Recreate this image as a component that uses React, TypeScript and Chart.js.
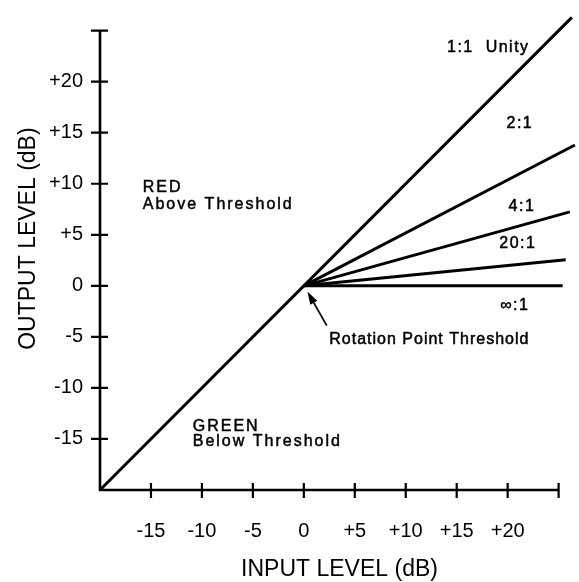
import React, { useEffect, useRef } from 'react';
import { Chart, registerables } from 'chart.js';

Chart.register(...registerables);

// ---- data ----
const tickValues = [-15, -10, -5, 0, 5, 10, 15, 20, 25];
const xTickLabels = ['-15', '-10', '-5', '0', '+5', '+10', '+15', '+20', ''];
const yTickLabels = ['-15', '-10', '-5', '0', '+5', '+10', '+15', '+20', ''];

const unityIn = [-20, 26.3];
const unityOut = [-20, 26.3];
const ratio2In = [0, 26.6];
const ratio2Out = [0, 13.8];
const ratio4In = [0, 26.1];
const ratio4Out = [0, 7.25];
const ratio20In = [0, 25.7];
const ratio20Out = [0, 2.55];
const ratioInfIn = [0, 25.4];
const ratioInfOut = [0, 0];

const seriesNames = ['1:1  Unity', '2:1', '4:1', '20:1', '\u221E:1'];
const seriesIn = [unityIn, ratio2In, ratio4In, ratio20In, ratioInfIn];
const seriesOut = [unityOut, ratio2Out, ratio4Out, ratio20Out, ratioInfOut];

// label anchors (data coordinates)
const labelIn = [18.1, 21.2, 21.4, 21.0, 20.7];
const labelOut = [23.3, 15.9, 7.75, 4.1, -1.9];

const noteTexts = ['RED', 'Above Threshold', 'GREEN', 'Below Threshold', 'Rotation Point Threshold'];
const noteIn = [-15.8, -15.8, -10.9, -10.9, 2.5];
const noteOut = [9.6, 8.0, -13.8, -15.3, -5.3];

const arrowFrom = [2.25, -3.9];
const arrowTo = [0.35, -0.55];

const FONT = '"Liberation Sans", Arial, Helvetica, sans-serif';

const drawPlugin = {
  id: 'axesAndNotes',
  afterDatasetsDraw(chart: any) {
    const { ctx, scales } = chart;
    const x = scales.x;
    const y = scales.y;
    ctx.save();
    ctx.strokeStyle = '#000';
    ctx.fillStyle = '#000';
    // axes
    const x0 = x.getPixelForValue(-20);
    const x1 = x.getPixelForValue(25);
    const y0 = y.getPixelForValue(-20);
    const y1 = y.getPixelForValue(25);
    ctx.lineWidth = 2.6;
    ctx.beginPath();
    ctx.moveTo(x0, y1);
    ctx.lineTo(x0, y0);
    ctx.lineTo(x1, y0);
    ctx.stroke();
    // ticks crossing the axes
    ctx.lineWidth = 2.2;
    ctx.beginPath();
    tickValues.forEach((v) => {
      const px = x.getPixelForValue(v);
      ctx.moveTo(px, y0 - 7);
      ctx.lineTo(px, y0 + 8);
      const py = y.getPixelForValue(v);
      ctx.moveTo(x0 - 9, py);
      ctx.lineTo(x0 + 8, py);
    });
    ctx.stroke();

    // arrow
    const ax0 = x.getPixelForValue(arrowFrom[0]);
    const ay0 = y.getPixelForValue(arrowFrom[1]);
    const ax1 = x.getPixelForValue(arrowTo[0]);
    const ay1 = y.getPixelForValue(arrowTo[1]);
    const ang = Math.atan2(ay1 - ay0, ax1 - ax0);
    const hl = 13;
    const hw = 4;
    const bx = ax1 - hl * Math.cos(ang);
    const by = ay1 - hl * Math.sin(ang);
    ctx.lineWidth = 1.7;
    ctx.beginPath();
    ctx.moveTo(ax0, ay0);
    ctx.lineTo(bx, by);
    ctx.stroke();
    ctx.beginPath();
    ctx.moveTo(ax1, ay1);
    ctx.lineTo(bx + hw * Math.sin(ang), by - hw * Math.cos(ang));
    ctx.lineTo(bx - hw * Math.sin(ang), by + hw * Math.cos(ang));
    ctx.closePath();
    ctx.fill();

    // texts
    ctx.font = `16px ${FONT}`;
    ctx.textBaseline = 'middle';
    ctx.lineWidth = 0.5;
    ctx.lineJoin = 'round';
    const put = (t: string, px: number, py: number) => {
      ctx.fillText(t, px, py);
      ctx.strokeText(t, px, py);
    };
    try { (ctx as any).letterSpacing = '1.5px'; } catch (e) {}
    ctx.textAlign = 'center';
    seriesNames.forEach((t, i) => {
      put(t, x.getPixelForValue(labelIn[i]), y.getPixelForValue(labelOut[i]));
    });
    ctx.textAlign = 'left';
    noteTexts.forEach((t, i) => {
      const last = i === noteTexts.length - 1;
      try { (ctx as any).letterSpacing = last ? '1px' : '2px'; } catch (e) {}
      put(t, x.getPixelForValue(noteIn[i]), y.getPixelForValue(noteOut[i]));
    });
    ctx.restore();
  },
};

export default function App() {
  const canvasRef = useRef<HTMLCanvasElement | null>(null);

  useEffect(() => {
    if (!canvasRef.current) return;
    const datasets = seriesNames.map((name, i) => ({
      label: name,
      data: seriesIn[i].map((v, j) => ({ x: v, y: seriesOut[i][j] })),
      showLine: true,
      borderColor: '#000',
      backgroundColor: '#000',
      borderWidth: 3,
      pointRadius: 0,
      clip: false as any,
    }));
    const zeroPad = (scale: any) => {
      scale.paddingLeft = 0;
      scale.paddingRight = 0;
      scale.paddingTop = 0;
      scale.paddingBottom = 0;
    };
    const chart = new Chart(canvasRef.current, {
      type: 'scatter',
      data: { datasets },
      plugins: [drawPlugin],
      options: {
        animation: false,
        responsive: true,
        maintainAspectRatio: false,
        layout: { padding: 0 },
        plugins: { legend: { display: false }, tooltip: { enabled: false } },
        scales: {
          x: {
            type: 'linear',
            min: -20,
            max: 27,
            grid: { display: false, drawTicks: false },
            border: { display: false },
            ticks: {
              stepSize: 5,
              includeBounds: false,
              autoSkip: false,
              maxRotation: 0,
              padding: 29,
              color: '#000',
              font: { family: FONT, size: 20 },
              callback: (v: any) => {
                const i = tickValues.indexOf(Number(v));
                return i >= 0 ? xTickLabels[i] : '';
              },
            },
            title: {
              display: true,
              text: 'INPUT LEVEL (dB)',
              color: '#000',
              font: { family: FONT, size: 23, lineHeight: 1.05 },
              padding: { top: 0, bottom: 0 },
            },
            afterFit: (scale: any) => {
              scale.height = 92;
              zeroPad(scale);
            },
          },
          y: {
            type: 'linear',
            min: -20,
            max: 28,
            grid: { display: false, drawTicks: false },
            border: { display: false },
            ticks: {
              stepSize: 5,
              includeBounds: false,
              autoSkip: false,
              padding: 17,
              color: '#000',
              font: { family: FONT, size: 20 },
              callback: (v: any) => {
                const i = tickValues.indexOf(Number(v));
                return i >= 0 ? yTickLabels[i] : '';
              },
            },
            title: {
              display: true,
              text: '  OUTPUT LEVEL (dB)',
              color: '#000',
              font: { family: FONT, size: 23, lineHeight: 1.2 },
              padding: { top: 15, bottom: 0 },
            },
            afterFit: (scale: any) => {
              scale.width = 100;
              zeroPad(scale);
            },
          },
        },
      },
    });
    return () => chart.destroy();
  }, []);

  return (
    <div style={{ position: 'fixed', left: 0, top: 0, width: 579, height: 582, background: '#fff' }}>
      <canvas ref={canvasRef} />
    </div>
  );
}
